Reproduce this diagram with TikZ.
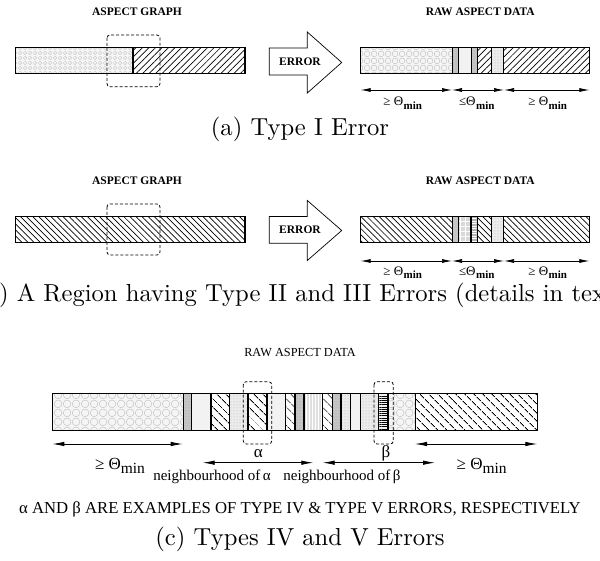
\documentclass[tikz,border=0pt]{standalone}
\usepackage{fontspec}
\newfontfamily\tms{Liberation Serif}
\newfontfamily\capfont{lmroman10-regular.otf}
\usetikzlibrary{patterns,patterns.meta,arrows.meta}

\tikzdeclarepattern{
  name=circsmall, type=uncolored,
  bounding box={(0pt,0pt) and (4.5pt,4.5pt)},
  tile size={(4.5pt,4.5pt)},
  code={\draw[line width=0.35pt] (2.25pt,2.25pt) circle (1.9pt);}
}
\tikzdeclarepattern{
  name=circmid, type=uncolored,
  bounding box={(0pt,0pt) and (7pt,7pt)},
  tile size={(7pt,7pt)},
  code={\draw[line width=0.4pt] (3.5pt,3.5pt) circle (3.2pt);}
}
\tikzdeclarepattern{
  name=circbig, type=uncolored,
  bounding box={(0pt,0pt) and (9pt,9pt)},
  tile size={(9pt,9pt)},
  code={\draw[line width=0.4pt] (4.5pt,4.5pt) circle (4.2pt);}
}

\tikzset{
  bar/.style={line width=1.2pt, draw=black},
  hexs/.style={bar, preaction={fill=gray!8}, pattern=circsmall, pattern color=gray!50},
  hexm/.style={bar, preaction={fill=gray!8}, pattern=circmid, pattern color=gray!55},
  hexb/.style={bar, preaction={fill=gray!8}, pattern=circbig, pattern color=gray!55},
  nea/.style={bar, preaction={fill=white}, pattern={Lines[angle=45,distance=4.6pt,line width=0.7pt]}},
  nwb/.style={bar, preaction={fill=white}, pattern={Lines[angle=-45,distance=4.3pt,line width=0.7pt]}},
  nwc/.style={bar, preaction={fill=white}, pattern={Lines[angle=-45,distance=6.5pt,line width=0.8pt]}},
  stipdark/.style={bar, preaction={fill=gray!45}, pattern=dots, pattern color=gray!85},
  stiplight/.style={bar, preaction={fill=gray!15}, pattern=dots, pattern color=gray!60},
  light/.style={bar, fill=gray!10},
  midgray/.style={bar, fill=gray!45},
  gridlight/.style={bar, preaction={fill=gray!30}, pattern={Hatch[angle=0,distance=5pt,line width=0.6pt]}, pattern color=white},
  hlinesdark/.style={bar, preaction={fill=gray!60}, pattern={Lines[angle=0,distance=2.5pt,line width=0.6pt]}, pattern color=white},
  vlines/.style={bar, preaction={fill=gray!25}, pattern={Lines[angle=90,distance=3pt,line width=0.8pt]}, pattern color=white},
  hlines/.style={bar, preaction={fill=gray!10}, pattern={Lines[angle=0,distance=2.2pt,line width=0.6pt]}},
  dashbox/.style={draw=black, line width=0.8pt, dash pattern=on 3pt off 2pt, rounded corners=3pt},
  errarrow/.style={draw=black, line width=0.7pt, fill=white},
  btitle/.style={anchor=base, inner sep=0pt, font=\tms\bfseries\fontsize{11.5}{13}\selectfont},
  caption/.style={anchor=base, inner sep=0pt, font=\capfont\fontsize{24.6}{28}\selectfont},
  dimlab/.style={anchor=base, inner sep=0pt, font=\tms\fontsize{13}{15}\selectfont},
  clab/.style={anchor=base, inner sep=0pt, font=\tms\fontsize{17}{19}\selectfont},
  nlab/.style={anchor=base, inner sep=0pt, font=\tms\fontsize{15}{17}\selectfont},
  dim/.style={{Latex[length=10pt,width=4pt]}-{Latex[length=10pt,width=4pt]}, line width=0.7pt},
  dimc/.style={{Latex[length=12pt,width=4.5pt]}-{Latex[length=12pt,width=4.5pt]}, line width=0.8pt},
}
\newcommand\thmin{Θ\textsubscript{\kern0.5pt\raisebox{-0.5pt}{\fontsize{11}{12}\selectfont\bfseries min}}}
\newcommand\thminc{Θ\raisebox{-4pt}{\fontsize{15.5}{17}\selectfont min}}

\begin{document}
\begin{tikzpicture}[x=1pt,y=-1pt]
\useasboundingbox (0,0) rectangle (600,561);
\clip (0,0) rectangle (600,561);

% ================= (a) =================
\node[btitle] (ta1) at (137,16) {ASPECT GRAPH};
\node[btitle] (ta2) at (480.3,16) {RAW ASPECT DATA};
\draw[hexs] (15.7,47.7) rectangle (133,73.3);
\draw[nea] (133,47.7) rectangle (245,73.3);
\draw[dashbox] (107,35) rectangle (160,86.7);

\draw[errarrow] (269.3,48) -- (307.3,48) -- (307.3,32) -- (341.7,62.5) -- (307.3,93) -- (307.3,75) -- (269.3,75) -- cycle;
\node[font=\tms\bfseries\fontsize{11.5}{13}\selectfont, inner sep=0pt] (erra) at (300,61.5) {ERROR};

\foreach \a/\b/\s in {360.7/452.3/hexm, 452.3/458.3/stipdark, 458.3/471.7/light, 471.7/477.3/stipdark, 477.3/491.3/nea, 491.3/503.7/stiplight, 503.7/589.3/nea}
  \draw[\s] (\a,47.7) rectangle (\b,73.3);

\coordinate (a1) at (360.7,90);
\coordinate (a2) at (452,90);
\coordinate (a3) at (504,90);
\coordinate (a4) at (589.3,90);
\draw[dim] (a1) -- (a2);
\draw[dim] (a2) -- (a3);
\draw[dim] (a3) -- (a4);
\node[dimlab] (la1) at (403,106) {≥ \thmin};
\node[dimlab] (la2) at (477,106) {≤\thmin};
\node[dimlab] (la3) at (548,106) {≥ \thmin};

\node[caption] (capa) at (300,136) {(a) Type I Error};

% ================= (b) =================
\node[btitle] (tb1) at (137,185) {ASPECT GRAPH};
\node[btitle] (tb2) at (480.3,185) {RAW ASPECT DATA};
\draw[nwb] (15.7,216.7) rectangle (245,242.3);
\draw[dashbox] (107,204) rectangle (160,255);

\draw[errarrow] (269.3,216.5) -- (307.3,216.5) -- (307.3,200.5) -- (341.7,230.5) -- (307.3,260.5) -- (307.3,243.2) -- (269.3,243.2) -- cycle;
\node[font=\tms\bfseries\fontsize{11.5}{13}\selectfont, inner sep=0pt] (errb) at (300,229.8) {ERROR};

\foreach \a/\b/\s in {360.7/452.5/nwb, 452.5/458.3/midgray, 458.3/471/gridlight, 471/477.3/hlinesdark, 477.3/491.3/nwb, 491.3/503.7/stiplight, 503.7/589.3/nwb}
  \draw[\s] (\a,216.7) rectangle (\b,242.3);

\coordinate (b1) at (360.7,261);
\coordinate (b2) at (452,261);
\coordinate (b3) at (504,261);
\coordinate (b4) at (589.3,261);
\draw[dim] (b1) -- (b2);
\draw[dim] (b2) -- (b3);
\draw[dim] (b3) -- (b4);
\node[dimlab] (lb1) at (403,275.5) {≥ \thmin};
\node[dimlab] (lb2) at (477,275.5) {≤\thmin};
\node[dimlab] (lb3) at (548,275.5) {≥ \thmin};

\node[caption] (capb) at (300,302) {(b) A Region having Type II and III Errors (details in text)};

% ================= (c) =================
\node[anchor=base, inner sep=0pt, font=\tms\fontsize{12.3}{14}\selectfont] (tc) at (300,356) {RAW ASPECT DATA};

\foreach \a/\b/\s in {52.3/183.3/hexb, 183.3/191.7/stipdark, 191.7/211/light, 211/229.3/nwc, 229.3/248/stiplight, 248/267/nwc, 267/285.3/light, 285.3/295/nwc, 295/304/stipdark, 304/322.3/vlines, 322.3/332.5/nwc, 332.5/341/stipdark, 341/350.5/stiplight, 350.5/360.8/light, 360.8/378.6/stiplight, 378.6/388/hlines, 388/415.8/hexb, 415.8/537.3/nwc}
  \draw[\s] (\a,393.3) rectangle (\b,430.7);

\draw[dashbox] (243.3,381.7) rectangle (271.7,444);
\draw[dashbox] (374,381.7) rectangle (393.3,444);

\coordinate (c1) at (52.3,444);
\coordinate (c2) at (182.7,444);
\coordinate (c3) at (415,444);
\coordinate (c4) at (537.3,444);
\coordinate (n1) at (202.7,462.7);
\coordinate (n2) at (313.3,462.7);
\coordinate (n3) at (322.7,462.7);
\coordinate (n4) at (435,462.7);
\draw[dimc] (c1) -- (c2);
\draw[dimc] (c3) -- (c4);
\draw[dimc] (n1) -- (n2);
\draw[dimc] (n3) -- (n4);

\node[clab] (lc1) at (120,469.3) {≥ \thminc};
\node[clab] (lc2) at (481.7,469.3) {≥ \thminc};
\node[clab] (lal) at (258.3,457.3) {α};
\node[clab] (lbe) at (386,457.3) {β};
\node[nlab] (nbh1) at (212,480) {neighbourhood of\,α};
\node[nlab] (nbh2) at (342,480) {neighbourhood of\,β};

\node[anchor=base, inner sep=0pt, font=\tms\fontsize{16.7}{18}\selectfont] (note) at (300,513.5) {α AND β ARE EXAMPLES OF TYPE IV \& TYPE V ERRORS, RESPECTIVELY};
\node[caption] (capc) at (300,545) {(c) Types IV and V Errors};
\end{tikzpicture}
\end{document}
